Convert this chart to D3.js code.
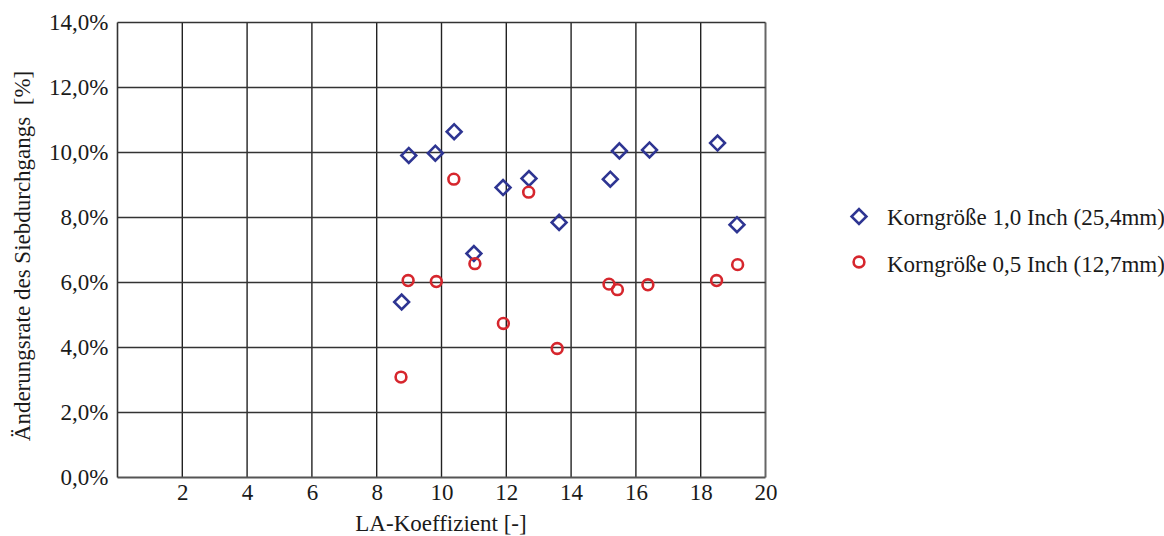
<!DOCTYPE html>
<html><head><meta charset="utf-8">
<script src="https://cdn.jsdelivr.net/npm/d3@7"></script>
<style>body{margin:0;background:#fff;} text{font-family:"Liberation Serif","Times New Roman",serif;fill:#1a1a1a;}</style>
</head><body>
<svg id="c" width="1164" height="536"></svg>
<script>
const seriesNames = ["Korngröße 1,0 Inch (25,4mm)", "Korngröße 0,5 Inch (12,7mm)"];
const xTicks = [2,4,6,8,10,12,14,16,18,20];
const yTicks = [0,2,4,6,8,10,12,14];
const xTitle = "LA-Koeffizient [-]";
const yTitle = "Änderungsrate des Siebdurchgangs\u00a0\u00a0[%]";
const s1x = [8.77, 8.99, 9.81, 10.39, 11.0, 11.90, 12.70, 13.63, 15.21, 15.49, 16.42, 18.52, 19.12];
const s1y = [5.40, 9.91, 9.98, 10.64, 6.89, 8.92, 9.20, 7.85, 9.18, 10.05, 10.08, 10.29, 7.78];
const s2x = [8.75, 8.97, 9.84, 10.38, 11.03, 11.91, 12.69, 13.57, 15.17, 15.43, 16.37, 18.49, 19.14];
const s2y = [3.09, 6.06, 6.03, 9.18, 6.58, 4.74, 8.78, 3.97, 5.95, 5.78, 5.93, 6.06, 6.55];

const svg = d3.select("#c");
const L = 117.5, R = 765.5, T = 22.5, B = 477.5;
const x = d3.scaleLinear().domain([0,20]).range([L,R]);
const y = d3.scaleLinear().domain([0,14]).range([B,T]);
const blue = "#2e3592", red = "#d6262d";
const fmt = v => v.toFixed(1).replace(".", ",") + "%";
const FS = 23;

// grid
const g = svg.append("g");
g.selectAll(".vx").data(xTicks).join("line")
  .attr("x1", d=>x(d)).attr("x2", d=>x(d)).attr("y1", T).attr("y2", B)
  .attr("stroke", d=> d===20 ? "#666" : "#222").attr("stroke-width", d=> d===20?2:1.4);
g.selectAll(".hy").data(yTicks).join("line")
  .attr("x1", L).attr("x2", R).attr("y1", d=>y(d)).attr("y2", d=>y(d))
  .attr("stroke", d=> d===0 ? "#555" : "#333").attr("stroke-width", d=> d===0?2:1.4);
g.append("line").attr("x1",L).attr("x2",L).attr("y1",T).attr("y2",B).attr("stroke","#333").attr("stroke-width",1.6);

// axes via d3
const xAxis = d3.axisBottom(x).tickValues(xTicks).tickSize(0).tickPadding(6);
const xa = svg.append("g").attr("transform",`translate(0,${B})`).call(xAxis);
xa.select(".domain").remove();
xa.selectAll("text").attr("font-size", FS).style("font-family","Liberation Serif").attr("fill","#1a1a1a");
const yAxis = d3.axisLeft(y).tickValues(yTicks).tickSize(0).tickPadding(9).tickFormat(fmt);
const ya = svg.append("g").attr("transform",`translate(${L},0)`).call(yAxis);
ya.select(".domain").remove();
ya.selectAll("text").attr("font-size", FS).style("font-family","Liberation Serif").attr("fill","#1a1a1a");

svg.append("text").attr("x", 441).attr("y", 531).attr("text-anchor","middle").attr("font-size",FS).text(xTitle);
svg.append("text").attr("transform","translate(30,256) rotate(-90)").attr("text-anchor","middle").attr("font-size",FS).text(yTitle);

// markers
const diamond = d3.symbol().type(d3.symbolSquare).size(110);
const d1 = s1x.map((v,i)=>({x:v,y:s1y[i]}));
const d2 = s2x.map((v,i)=>({x:v,y:s2y[i]}));
svg.append("g").selectAll("path").data(d1).join("path")
  .attr("d", diamond).attr("transform", d=>`translate(${x(d.x)},${y(d.y)}) rotate(45)`)
  .attr("fill","none").attr("stroke",blue).attr("stroke-width",2.6);
svg.append("g").selectAll("circle").data(d2).join("circle")
  .attr("cx", d=>x(d.x)).attr("cy", d=>y(d.y)).attr("r",5.4)
  .attr("fill","none").attr("stroke",red).attr("stroke-width",2.6);

// legend
const lg = svg.append("g");
lg.append("path").attr("d", diamond).attr("transform","translate(859,216.5) rotate(45)")
  .attr("fill","none").attr("stroke",blue).attr("stroke-width",2.6);
lg.append("circle").attr("cx",859).attr("cy",262).attr("r",5.4).attr("fill","none").attr("stroke",red).attr("stroke-width",2.6);
lg.append("text").attr("x",887).attr("y",225).attr("font-size",FS).text(seriesNames[0]);
lg.append("text").attr("x",887).attr("y",271.5).attr("font-size",FS).text(seriesNames[1]);
</script>
</body></html>
